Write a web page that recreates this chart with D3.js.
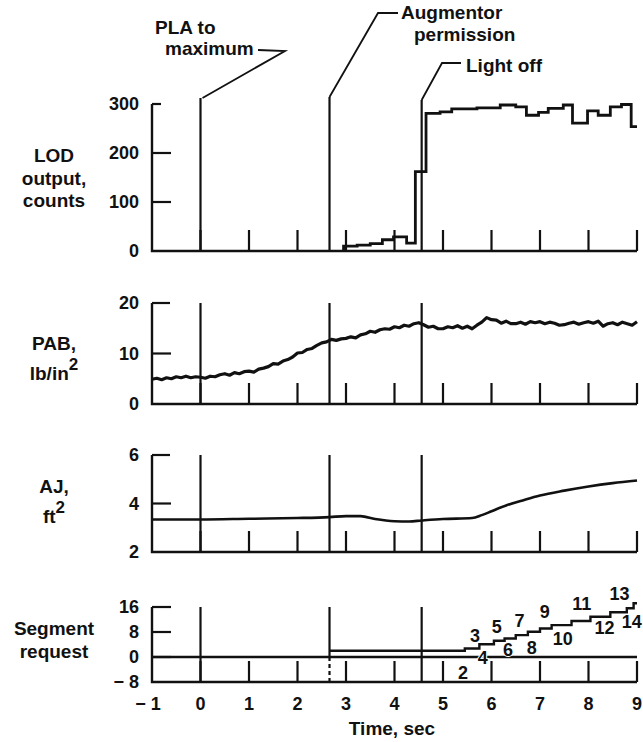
<!DOCTYPE html>
<html>
<head>
<meta charset="utf-8">
<script src="https://cdn.jsdelivr.net/npm/d3@7"></script>
<style>
  body { margin: 0; background: #fff; }
  text { font-family: "Liberation Sans", Arial, sans-serif; font-weight: bold; fill: #111; }
</style>
</head>
<body>
<div id="chart"></div>
<script>
// time axis
var timeTicks = [0, 1, 2, 3, 4, 5, 6, 7, 8, 9];
var timeLabels = ["\u2212 1", "0", "1", "2", "3", "4", "5", "6", "7", "8", "9"];
var eventTimes = [0, 2.66, 4.56];

// LOD output, counts (step trace)
var lodTimes  = [2.95, 2.95, 3.23, 3.5, 3.75, 3.98, 4.25, 4.43, 4.65, 4.94, 5.18, 5.7, 6.18, 6.5, 6.72, 6.97, 7.17, 7.48, 7.67, 7.98, 8.2, 8.45, 8.68, 8.88, 9.0];
var lodCounts = [0, 10, 12, 15, 23, 29, 16, 162, 281, 284, 290, 292, 298, 294, 277, 283, 291, 298, 261, 286, 277, 294, 299, 254, 254];
var lodTicks = [0, 100, 200, 300];

// PAB, lb/in2 sampled every 0.1 s from -1 s
var pabStart = -1, pabStep = 0.1;
var pabValues = [
  4.9, 5.1, 4.8, 5.2, 5.0, 5.4, 5.2, 5.5, 5.2, 5.4,
  5.3, 5.1, 5.5, 5.4, 5.8, 6.0, 5.7, 6.2, 6.0, 6.4,
  6.5, 6.3, 6.9, 7.1, 7.4, 8.0, 7.9, 8.5, 8.8, 9.3,
  10.1, 10.2, 10.8, 11.0, 11.6, 12.1, 12.3, 12.8, 12.6, 12.9,
  13.0, 13.3, 13.1, 13.7, 13.9, 14.4, 14.2, 14.7, 14.9, 14.8,
  15.3, 15.1, 15.6, 15.4, 15.9, 16.1, 15.7, 15.2, 15.4, 14.9,
  14.9, 15.3, 15.1, 15.5, 15.0, 15.4, 14.9, 15.6, 16.2, 17.1,
  16.7, 16.6, 16.0, 16.4, 15.9, 15.9, 16.2, 15.8, 16.3, 16.1,
  16.3, 15.9, 16.2, 16.0, 15.6, 15.7, 16.0, 16.2, 15.8, 16.1,
  16.3, 16.0, 16.4, 15.4, 15.9, 16.1, 15.7, 16.2, 15.9, 15.6,
  16.3
];
var pabTicks = [0, 10, 20];

// AJ, ft2
var ajTimes  = [-1, 0, 1, 2, 2.66, 3.0, 3.3, 3.6, 4.0, 4.3, 4.56, 5.0, 5.6, 5.8, 6.0, 6.3, 6.6, 7.0, 7.5, 8.0, 8.5, 9.0];
var ajValues = [3.34, 3.34, 3.37, 3.40, 3.44, 3.48, 3.48, 3.36, 3.27, 3.26, 3.30, 3.36, 3.40, 3.52, 3.68, 3.92, 4.10, 4.33, 4.53, 4.70, 4.84, 4.95];
var ajTicks = [2, 4, 6];

// Segment request
var segTimes  = [2.66, 5.45, 5.75, 6.05, 6.27, 6.5, 6.75, 7.0, 7.24, 7.65, 8.04, 8.45, 8.79, 8.93, 9.0];
var segValues = [2, 2.7, 4.1, 5.2, 5.9, 7.0, 8.1, 9.1, 10.2, 11.5, 12.9, 14.3, 15.6, 17.2, 17.2];
var segBaseTimes = [-1, 9];
var segBaseValues = [0, 0];
var segTicks = [-8, 0, 8, 16];
var segTickLabels = ["\u2212 8", "0", "8", "16"];
var segNumbers = ["2", "3", "4", "5", "6", "7", "8", "9", "10", "11", "12", "13", "14"];
var segNumTimes = [5.41, 5.66, 5.82, 6.11, 6.34, 6.58, 6.83, 7.10, 7.47, 7.86, 8.33, 8.64, 8.89];
var segNumValues = [-4.9, 7.0, -0.1, 9.6, 2.5, 11.8, 3.1, 14.7, 6.0, 17.0, 9.3, 20.2, 11.2];

function drawChart() {
    var W = 643, H = 742;
    var svg = d3.select("#chart").append("svg")
        .attr("width", W)
        .attr("height", H);

    var x = d3.scaleLinear().domain([-1, 9]).range([152, 637]);

    var panels = [
        { y: d3.scaleLinear().domain([0, 300]).range([251, 104]), ticks: lodTicks, labels: lodTicks.map(String),
          title: ["LOD", "output,", "counts"], titleY: [162, 185, 207], topTick: 9 },
        { y: d3.scaleLinear().domain([0, 20]).range([404, 303]), ticks: pabTicks, labels: pabTicks.map(String),
          title: ["PAB,", "lb/in|2"], titleY: [350, 380], topTick: 18 },
        { y: d3.scaleLinear().domain([2, 6]).range([552, 455]), ticks: ajTicks, labels: ajTicks.map(String),
          title: ["AJ,", "ft|2"], titleY: [493, 523], topTick: 18 },
        { y: d3.scaleLinear().domain([-8, 16]).range([682, 607]), ticks: segTicks, labels: segTickLabels,
          title: ["Segment", "request"], titleY: [635, 658], topTick: 19 }
    ];

    panels.forEach(function (p) {
        var g = svg.append("g");
        var y0 = p.y.range()[0], y1 = p.y.range()[1];
        var lo = p.y.domain()[0], hi = p.y.domain()[1];

        // left axis and baseline
        g.append("path")
            .attr("d", "M" + x(-1) + "," + y1 + "V" + y0 + "H" + x(9))
            .attr("fill", "none").attr("stroke", "#111").attr("stroke-width", 2.4);

        // y ticks
        g.selectAll(".ytick").data(p.ticks.filter(function (t) { return t != lo; }))
            .enter().append("line")
            .attr("x1", x(-1)).attr("x2", function (t) { return x(-1) + (t == hi ? p.topTick : 19); })
            .attr("y1", function (t) { return p.y(t); }).attr("y2", function (t) { return p.y(t); })
            .attr("stroke", "#111").attr("stroke-width", 2.2);

        g.selectAll(".ylab").data(p.ticks)
            .enter().append("text")
            .attr("x", 139)
            .attr("y", function (t) { return p.y(t); })
            .attr("dy", "0.36em")
            .attr("text-anchor", "end")
            .style("font-size", "18px")
            .text(function (t, i) { return p.labels[i]; });

        // x ticks
        g.selectAll(".xtick").data(timeTicks)
            .enter().append("line")
            .attr("x1", function (t) { return x(t); }).attr("x2", function (t) { return x(t); })
            .attr("y1", y0).attr("y2", y0 - 21)
            .attr("stroke", "#111").attr("stroke-width", 2.2);

        // title
        p.title.forEach(function (s, i) {
            var parts = s.split("|");
            var t = g.append("text")
                .attr("x", 54)
                .attr("y", p.titleY[i])
                .attr("text-anchor", "middle")
                .style("font-size", "19px");
            t.append("tspan").text(parts[0]);
            if (parts.length > 1) {
                t.append("tspan").attr("dy", "-0.6em").style("font-size", "17px").text(parts[1]);
            }
        });
        p.g = g;
    });

    // event lines
    panels.forEach(function (p, pi) {
        var y0 = p.y.range()[0], y1 = p.y.range()[1];
        eventTimes.forEach(function (t, i) {
            var top = y1;
            if (pi == 0) top = [98, 97, 100][i];
            if (pi == 3 && i == 1) {
                p.g.append("line")
                    .attr("x1", x(t)).attr("x2", x(t)).attr("y1", top).attr("y2", p.y(0))
                    .attr("stroke", "#111").attr("stroke-width", 2.2);
                p.g.append("line")
                    .attr("x1", x(t)).attr("x2", x(t)).attr("y1", p.y(0)).attr("y2", y0)
                    .attr("stroke", "#111").attr("stroke-width", 2.2)
                    .attr("stroke-dasharray", "4,3");
            } else {
                p.g.append("line")
                    .attr("x1", x(t)).attr("x2", x(t)).attr("y1", top).attr("y2", y0)
                    .attr("stroke", "#111").attr("stroke-width", 2.2);
            }
        });
    });

    // LOD trace
    var lodLine = d3.line()
        .x(function (d, i) { return x(lodTimes[i]); })
        .y(function (d) { return panels[0].y(d); })
        .curve(d3.curveStepAfter);
    svg.append("path").attr("d", lodLine(lodCounts))
        .attr("fill", "none").attr("stroke", "#111").attr("stroke-width", 2.8);

    // PAB trace
    var pabLine = d3.line()
        .x(function (d, i) { return x(pabStart + i * pabStep); })
        .y(function (d) { return panels[1].y(d); });
    svg.append("path").attr("d", pabLine(pabValues))
        .attr("fill", "none").attr("stroke", "#111").attr("stroke-width", 3.2)
        .attr("stroke-linejoin", "round");

    // AJ trace
    var ajLine = d3.line()
        .x(function (d, i) { return x(ajTimes[i]); })
        .y(function (d) { return panels[2].y(d); })
        .curve(d3.curveMonotoneX);
    svg.append("path").attr("d", ajLine(ajValues))
        .attr("fill", "none").attr("stroke", "#111").attr("stroke-width", 2.6);

    // segment traces
    var segBase = d3.line()
        .x(function (d, i) { return x(segBaseTimes[i]); })
        .y(function (d) { return panels[3].y(d); });
    svg.append("path").attr("d", segBase(segBaseValues))
        .attr("fill", "none").attr("stroke", "#111").attr("stroke-width", 2.4);

    var segLine = d3.line()
        .x(function (d, i) { return x(segTimes[i]); })
        .y(function (d) { return panels[3].y(d); })
        .curve(d3.curveStepAfter);
    svg.append("path").attr("d", segLine(segValues))
        .attr("fill", "none").attr("stroke", "#111").attr("stroke-width", 2.4);

    svg.selectAll(".segnum").data(segNumbers)
        .enter().append("text")
        .attr("x", function (d, i) { return x(segNumTimes[i]); })
        .attr("y", function (d, i) { return panels[3].y(segNumValues[i]); })
        .attr("dy", "0.36em")
        .attr("text-anchor", "middle")
        .style("font-size", "18px")
        .style("paint-order", "stroke")
        .style("stroke", "#fff")
        .style("stroke-width", "2px")
        .text(function (d) { return d; });

    // time axis labels
    svg.selectAll(".xlab").data(timeLabels)
        .enter().append("text")
        .attr("x", function (d, i) { return x(i - 1) - (i == 0 ? 4 : 0); })
        .attr("y", 710)
        .attr("text-anchor", "middle")
        .style("font-size", "18px")
        .text(function (d) { return d; });

    svg.append("text")
        .attr("x", 392).attr("y", 735)
        .attr("text-anchor", "middle")
        .style("font-size", "19px")
        .text("Time, sec");

    // annotations
    var lead = function (pts) {
        svg.append("path").attr("d", d3.line()(pts))
            .attr("fill", "none").attr("stroke", "#111").attr("stroke-width", 1.8);
    };
    var ex = eventTimes.map(x);
    lead([[ex[0] + 2, 98], [285, 51], [258, 50]]);
    lead([[ex[1], 97], [378, 13], [398, 13]]);
    lead([[ex[2], 100], [442, 63], [461, 63]]);

    var note = function (s, tx, ty) {
        svg.append("text").attr("x", tx).attr("y", ty)
            .style("font-size", "19px").text(s);
    };
    note("PLA to", 155, 34);
    note("maximum", 165, 55);
    note("Augmentor", 401, 19);
    note("permission", 414, 41);
    note("Light off", 466, 72);
}

window.addEventListener("load", function () {
    drawChart();
});
</script>
</body>
</html>
